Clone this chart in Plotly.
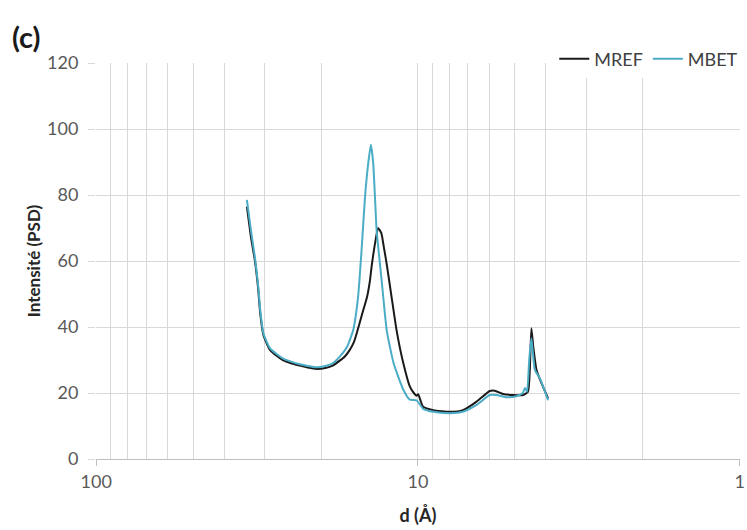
import plotly.graph_objects as go

# d spacing (Å) and intensity (PSD)
mref_d = [34.0, 33.0, 32.1, 31.4, 30.9, 30.2, 29.5, 28.8, 27.5, 26.3, 24.8, 23.3, 22.0, 20.6, 19.4,
          18.4, 17.5, 16.9, 16.3, 15.8, 15.4, 14.9, 14.4, 14.1, 13.9, 13.5, 13.3, 13.0, 12.75, 12.5, 12.07,
          11.65, 11.1, 10.6, 10.3, 10.1, 9.98, 9.8, 9.63, 8.96, 7.95, 7.25, 6.57, 5.98, 5.77, 5.44,
          5.06, 4.71, 4.55, 4.49, 4.44, 4.38, 4.28, 4.13, 3.94]
mref_y = [76.5, 67, 60, 52, 44, 37.5, 35, 33, 31.3, 30, 29, 28.3, 27.7, 27.3, 27.6,
          28.3, 29.8, 31, 33, 35.5, 39, 44, 49, 54, 59, 67, 70, 68.5, 64, 59, 49,
          39, 29, 22, 20, 19.2, 19.6, 17.5, 15.8, 14.8, 14.3, 14.8, 17.4, 20.6, 20.7, 19.7,
          19.4, 19.4, 20.4, 27, 39.6, 34, 27, 23, 18.4]

mbet_d = [34.0, 33.0, 32.1, 31.4, 30.9, 30.2, 29.5, 28.8, 27.5, 26.3, 24.8, 23.3, 22.0, 20.6, 19.4,
          18.4, 17.5, 16.6, 15.9, 15.35, 14.95, 14.6, 14.27, 14.0, 13.77, 13.6, 13.44, 12.96, 12.5,
          11.9, 11.1, 10.6, 10.1, 9.63, 8.96, 7.95, 7.25, 6.57, 5.98, 5.70, 5.30, 4.94, 4.72, 4.65,
          4.58, 4.51, 4.44, 4.33, 4.18, 3.94]
mbet_y = [78.5, 69, 61, 53, 45, 38, 35.5, 33.5, 31.8, 30.5, 29.5, 28.7, 28.2, 27.8, 28.2,
          29, 31, 34, 39, 49, 64, 79.5, 89.6, 95.2, 89.6, 79.5, 69.4, 54, 39,
          29, 21, 18, 17.8, 15.2, 14.3, 13.9, 14.3, 16.4, 19.4, 19.4, 18.7, 19, 20, 21.5,
          20.4, 30, 36.6, 27, 24.5, 17.8]

x_major = [100, 10, 1]
x_major_text = ["100", "10", "1"]
x_minor = [90, 80, 70, 60, 50, 40, 30, 20, 9, 8, 7, 6, 5, 4, 3, 2]
y_ticks = [0, 20, 40, 60, 80, 100, 120]

FONT = "Lato"

fig = go.Figure()
fig.add_trace(go.Scatter(x=mref_d, y=mref_y, mode="lines", name="MREF",
                         line=dict(color="#1a1a1a", width=2, shape="spline", smoothing=0.5)))
fig.add_trace(go.Scatter(x=mbet_d, y=mbet_y, mode="lines", name="MBET",
                         line=dict(color="#4bacc6", width=2, shape="spline", smoothing=0.5)))

fig.update_layout(
    width=747, height=530,
    margin=dict(l=96, r=7, t=63, b=71, autoexpand=False),
    paper_bgcolor="white", plot_bgcolor="white",
    font=dict(family=FONT, size=18, color="#595959"),
    showlegend=True,
    legend=dict(orientation="h", xref="container", yref="container",
                x=0.995, xanchor="right", y=1 - 59 / 530, yanchor="middle",
                bgcolor="white", font=dict(size=18, color="#404040"),
                itemwidth=30),
)
fig.add_annotation(text="<b>(c)</b>", xref="paper", yref="paper",
                   x=-86 / 644, y=1 + 27 / 396, xanchor="left", yanchor="middle",
                   showarrow=False, font=dict(size=29, color="#1a1a1a", family=FONT))

fig.update_xaxes(
    type="log", range=[2.0005, -0.001], automargin=False,
    tickmode="array", tickvals=x_major, ticktext=x_major_text,
    ticks="outside", ticklen=6, tickcolor="#bfbfbf",
    showgrid=True, gridcolor="#d9d9d9", gridwidth=1,
    minor=dict(tickmode="array", tickvals=x_minor, showgrid=True, gridcolor="#d9d9d9",
               gridwidth=1, ticks=""),
    showline=True, linecolor="#bfbfbf", linewidth=1,
    zeroline=False,
    title=dict(text="<b>d (Å)</b>", font=dict(size=18, color="#262626"), standoff=18),
    tickfont=dict(size=18, color="#595959"),
)
fig.update_yaxes(
    range=[0, 120], tickmode="array", tickvals=y_ticks, automargin=False,
    ticks="outside", ticklen=7, tickcolor="#d9d9d9",
    showgrid=True, gridcolor="#d9d9d9", gridwidth=1,
    zeroline=False, showline=False,
    ticklabelstandoff=6,
    title=dict(text="<b>Intensité (PSD)</b>", font=dict(size=17, color="#262626"), standoff=2),
    tickfont=dict(size=18, color="#595959"),
)

fig.write_html("out.html", config={"displayModeBar": False},
               post_script="document.body.style.margin='0';document.body.style.overflow='hidden';")
